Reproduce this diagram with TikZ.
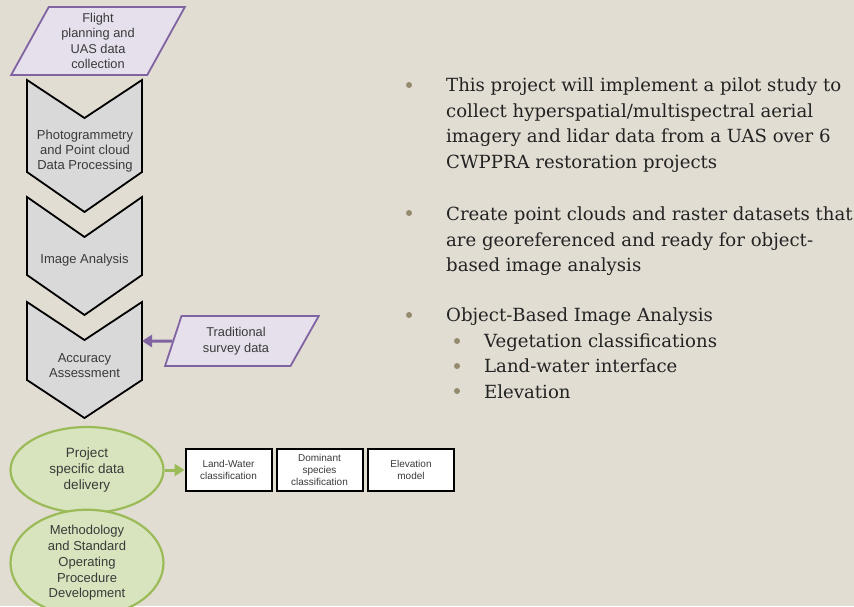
\documentclass[tikz,border=0pt]{standalone}
\usepackage{fontspec}
\setmainfont{DejaVu Serif}
\newfontfamily\diagfont{Liberation Sans}
\usetikzlibrary{shapes.geometric,arrows.meta}

\definecolor{bgbeige}{HTML}{E2DDD3}
\definecolor{lavfill}{HTML}{E5E0EC}
\definecolor{lavline}{HTML}{8064A2}
\definecolor{chevfill}{HTML}{D9D9D9}
\definecolor{greenfill}{HTML}{D7E4BD}
\definecolor{greenline}{HTML}{9BBB59}
\definecolor{diagtext}{HTML}{3A3A3A}
\definecolor{bullettext}{HTML}{222222}
\definecolor{bulletdot}{HTML}{948A6E}

\begin{document}
\begin{tikzpicture}[x=1pt, y=-1pt,
inputnode/.style={trapezium, trapezium stretches=true, draw=lavline, fill=lavfill, line width=1.8pt, inner sep=0pt, text=diagtext, align=center, font=\diagfont\fontsize{12.8}{15.5}\selectfont},
chevron/.style={draw=black, fill=chevfill, line width=1.8pt, line join=miter},
chevtext/.style={inner sep=0pt, text=diagtext, align=center, font=\diagfont\fontsize{13}{15}\selectfont},
deliverynode/.style={ellipse, draw=greenline, fill=greenfill, line width=2.2pt, minimum width=153pt, minimum height=86pt, inner sep=0pt, text=diagtext, align=center, font=\diagfont\fontsize{13.5}{16}\selectfont},
productnode/.style={rectangle, draw=black, fill=white, line width=2pt, minimum width=86pt, minimum height=42pt, inner sep=0pt, align=center, font=\diagfont\fontsize{10}{12}\selectfont, text=diagtext},
bullettxt/.style={anchor=north west, inner sep=0pt, align=left, text=bullettext, font=\fontsize{18.1}{25.6}\selectfont},
bulletmark/.style={circle, fill=bulletdot, inner sep=0pt, minimum size=6pt},
flowarrow/.style={line width=3pt, -{Triangle[length=10pt,width=12pt]}}]

\path[fill=bgbeige] (0,0) rectangle (854,606);
\useasboundingbox (0,0) rectangle (854,606);

\node[inputnode, trapezium left angle=63.4, trapezium right angle=116.6, minimum width=174pt, minimum height=68pt](flight) at (98,41) {Flight\\planning and\\UAS data\\collection};

\draw[chevron] (27,80) -- (84.5,118) -- (142,80) -- (142,172) -- (84.5,212) -- (27,172) -- cycle;
\draw[chevron] (27,197) -- (84.5,237) -- (142,197) -- (142,275) -- (84.5,315) -- (27,275) -- cycle;
\draw[chevron] (27,302) -- (84.5,340) -- (142,302) -- (142,380) -- (84.5,418) -- (27,380) -- cycle;
\coordinate (accedge) at (142,341);

\node[chevtext](photo) at (85,151) {Photogrammetry\\and Point cloud\\Data Processing};
\node[chevtext](imagean) at (84.5,260) {Image Analysis};
\node[chevtext](accuracy) at (84.5,366) {Accuracy\\Assessment};

\node[inputnode, trapezium left angle=70, trapezium right angle=122, minimum width=154pt, minimum height=50pt](survey) at (236,341) {Traditional\\survey data};
\draw[flowarrow, lavline](survey.west) -- (accedge);

\node[deliverynode](delivery) at (87,470) {Project\\specific data\\delivery};
\node[deliverynode, font=\diagfont\fontsize{13}{15.8}\selectfont](method) at (87,563) {Methodology\\and Standard\\Operating\\Procedure\\Development};

\node[productnode](landwater) at (228.5,470) {Land-Water\\classification};
\node[productnode](species) at (319.5,470) {Dominant\\species\\classification};
\node[productnode](elevation) at (411,470) {Elevation\\model};
\draw[flowarrow, greenline](delivery.east) -- (landwater.west);

\node[bulletmark](d1) at (409,85) {};
\node[bulletmark](d2) at (409,213) {};
\node[bulletmark](d3) at (409,315) {};
\node[bulletmark](d4) at (457,341) {};
\node[bulletmark](d5) at (457,366) {};
\node[bulletmark](d6) at (457,391) {};

\node[bullettxt](b1) at (446,77.5) {This project will implement a pilot study to\\collect hyperspatial/multispectral aerial\\imagery and lidar data from a UAS over 6\\CWPPRA restoration projects};
\node[bullettxt](b2) at (446,206.5) {Create point clouds and raster datasets that\\are georeferenced and ready for object-\\based image analysis};
\node[bullettxt](b3) at (446,307.5) {Object-Based Image Analysis};
\node[bullettxt](s1) at (484,333.5) {Vegetation classifications};
\node[bullettxt](s2) at (484,358.5) {Land-water interface};
\node[bullettxt](s3) at (484,384.5) {Elevation};

\end{tikzpicture}
\end{document}
